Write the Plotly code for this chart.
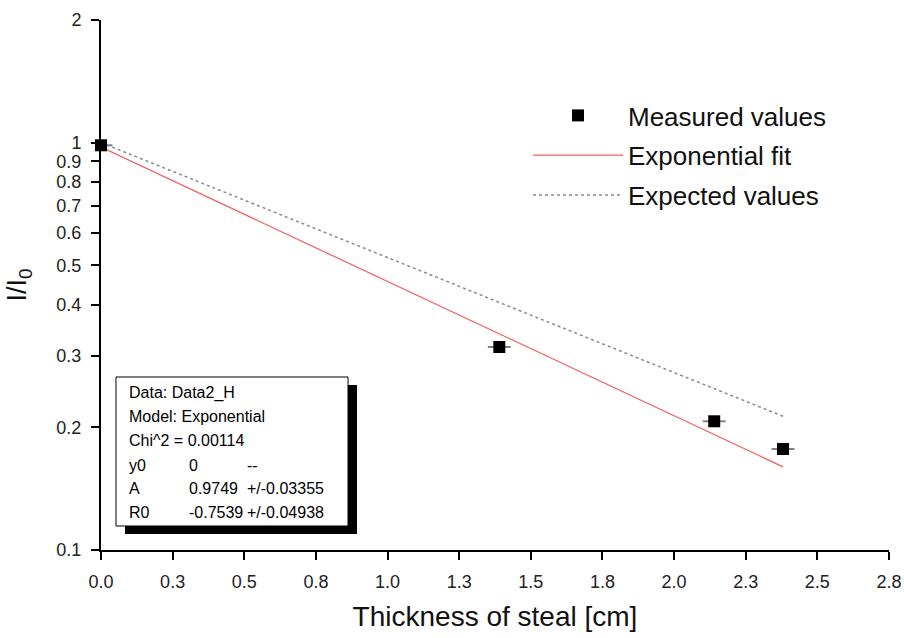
import plotly.graph_objects as go

# ---- data ----
measured_x = [0.0, 1.39, 2.14, 2.38]
measured_y = [0.985, 0.315, 0.207, 0.177]
measured_xerr = [0.04, 0.04, 0.04, 0.04]

fit_x = [0.0, 2.38]
fit_y = [0.975, 0.160]

expected_x = [0.0, 2.38]
expected_y = [1.0, 0.213]

x_tickvals = [0.0, 0.25, 0.5, 0.75, 1.0, 1.25, 1.5, 1.75, 2.0, 2.25, 2.5, 2.75]
x_ticktext = ["0.0", "0.3", "0.5", "0.8", "1.0", "1.3", "1.5", "1.8", "2.0", "2.3", "2.5", "2.8"]
y_tickvals = [0.1, 0.2, 0.3, 0.4, 0.5, 0.6, 0.7, 0.8, 0.9, 1, 2]
y_ticktext = ["0.1", "0.2", "0.3", "0.4", "0.5", "0.6", "0.7", "0.8", "0.9", "1", "2"]

fit_lines = [
    ["Data: Data2_H", "", ""],
    ["Model: Exponential", "", ""],
    ["Chi^2 = 0.00114", "", ""],
    ["y0", "0", "--"],
    ["A", "0.9749", "+/-0.03355"],
    ["R0", "-0.7539", "+/-0.04938"],
]

FONT = "Liberation Sans, Arial, sans-serif"

# plot area geometry in page pixels
L, R, T, B = 101, 889, 20, 550
W, H = 904, 638


def pxx(p):
    return (p - L) / (R - L)


def pxy(p):
    return (B - p) / (B - T)


fig = go.Figure()

fig.add_trace(go.Scatter(
    x=expected_x, y=expected_y, mode="lines", name="Expected values",
    legendrank=3, legendgroup="g3",
    line=dict(color="#8a8a8a", width=1.5, dash="dot"),
))
fig.add_trace(go.Scatter(
    x=fit_x, y=fit_y, mode="lines", name="Exponential fit",
    legendrank=2, legendgroup="g2",
    line=dict(color="#f06060", width=1.2),
))
fig.add_trace(go.Scatter(
    x=measured_x, y=measured_y, mode="markers", name="Measured values",
    legendrank=1, legendgroup="g1",
    marker=dict(symbol="square", size=12, color="black"),
    error_x=dict(type="data", array=measured_xerr, color="#808080", thickness=2, width=0),
    cliponaxis=False,
))

# fit-result box: shadow and frame
shapes = [
    dict(type="rect", xref="paper", yref="paper",
         x0=pxx(125), x1=pxx(357), y0=pxy(534), y1=pxy(385),
         fillcolor="black", line=dict(width=0), layer="above"),
    dict(type="rect", xref="paper", yref="paper",
         x0=pxx(116), x1=pxx(348), y0=pxy(526), y1=pxy(377),
         fillcolor="white", line=dict(color="black", width=1), layer="above"),
]

annotations = []
line_y = [393, 417, 441, 465, 488, 512]
col_x = [127, 187, 245]
for row, yy in zip(fit_lines, line_y):
    for txt, xx in zip(row, col_x):
        if txt:
            annotations.append(dict(
                text=txt, xref="paper", yref="paper", x=pxx(xx), y=pxy(yy),
                xanchor="left", yanchor="middle", showarrow=False,
                font=dict(family=FONT, size=16, color="black"),
            ))

fig.update_layout(
    width=W, height=H,
    margin=dict(l=L, r=W - R, t=T, b=H - B, pad=0, autoexpand=False),
    paper_bgcolor="white", plot_bgcolor="white",
    font=dict(family=FONT, color="black"),
    shapes=shapes,
    annotations=annotations,
    legend=dict(
        x=pxx(528), y=pxy(92), xanchor="left", yanchor="top",
        font=dict(family=FONT, size=26, color="#111111"),
        bgcolor="rgba(0,0,0,0)", traceorder="grouped",
        tracegroupgap=3, itemwidth=90,
    ),
    xaxis=dict(
        range=[0, 2.75], showgrid=False, zeroline=False, automargin=False,
        showline=True, linecolor="black", linewidth=2,
        ticks="outside", ticklen=8, tickwidth=2, tickcolor="black",
        tickvals=x_tickvals, ticktext=x_ticktext,
        tickfont=dict(family=FONT, size=18, color="#222222"),
        ticklabelstandoff=6,
        title=dict(text="Thickness of steal [cm]", font=dict(family=FONT, size=28, color="#111111"), standoff=16),
    ),
    yaxis=dict(
        type="log", range=[-1, 0.30103], showgrid=False, zeroline=False, automargin=False,
        showline=True, linecolor="black", linewidth=2,
        ticks="outside", ticklen=8, tickwidth=2, tickcolor="black",
        tickvals=y_tickvals, ticktext=y_ticktext,
        tickfont=dict(family=FONT, size=18, color="#222222"),
        ticklabelstandoff=6,
        title=dict(text="I/I<sub>0</sub>", font=dict(family=FONT, size=27, color="#111111"), standoff=22),
    ),
)

fig.write_html(
    "out.html",
    config={"displayModeBar": False},
    post_script="document.body.style.margin='0';document.body.style.overflow='hidden';",
)
